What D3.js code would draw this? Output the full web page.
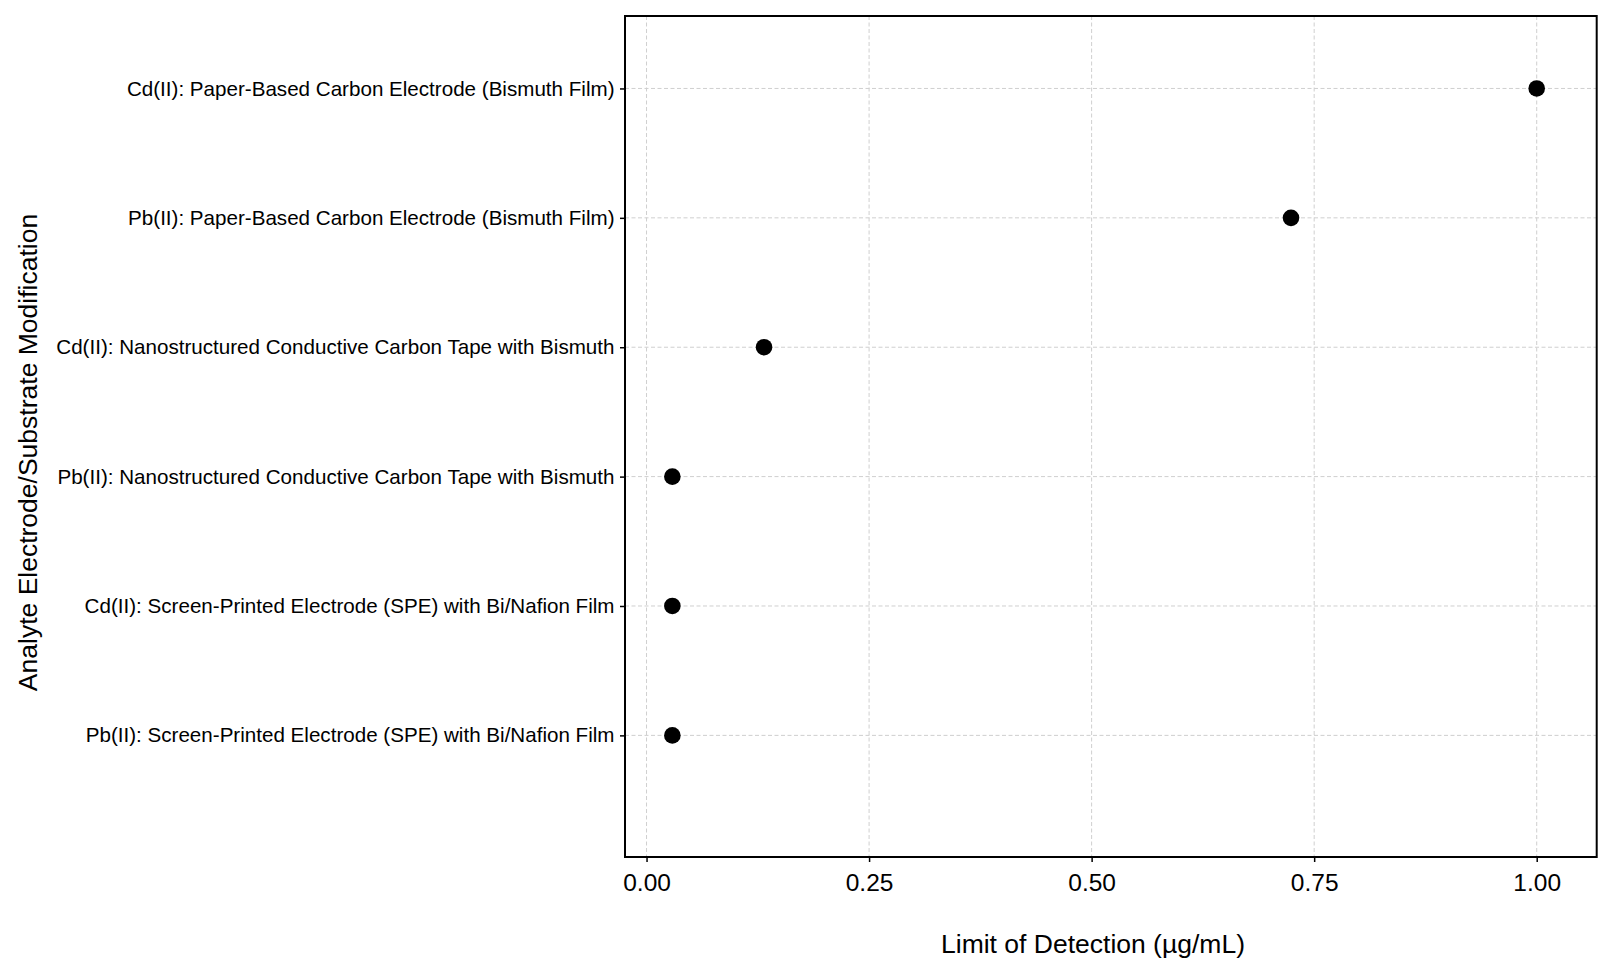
<!DOCTYPE html>
<html>
<head>
<meta charset="utf-8" />
<script src="https://cdn.jsdelivr.net/npm/d3@7"></script>
<style>
  body { margin: 0; background: #fff; }
  text { font-family: "Liberation Sans", Arial, Helvetica, sans-serif; fill: #000; }
  .grid line { stroke: #cfcfcf; stroke-width: 1; stroke-dasharray: 4,2.5; }
  .axis path { display: none; }
  .axis line { stroke: #000; stroke-width: 1.5; }
</style>
</head>
<body>
<script>
// categories, top to bottom
var categories = [
  "Cd(II): Paper-Based Carbon Electrode (Bismuth Film)",
  "Pb(II): Paper-Based Carbon Electrode (Bismuth Film)",
  "Cd(II): Nanostructured Conductive Carbon Tape with Bismuth",
  "Pb(II): Nanostructured Conductive Carbon Tape with Bismuth",
  "Cd(II): Screen-Printed Electrode (SPE) with Bi/Nafion Film",
  "Pb(II): Screen-Printed Electrode (SPE) with Bi/Nafion Film"
];
var lod = [1.0, 0.724, 0.132, 0.029, 0.029, 0.029];
var xTicks = [0, 0.25, 0.5, 0.75, 1.0];

var width = 1614, height = 975;
// plot box (window.top is reserved, so prefixed names)
var pLeft = 625, pTop = 16, pRight = 1596.7, pBottom = 857;

var svg = d3.select("body").append("svg")
    .attr("width", width)
    .attr("height", height);

var x = d3.scaleLinear().domain([-0.0242, 1.0674]).range([pLeft, pRight]);
var y = d3.scaleLinear().domain([-0.56, 5.94]).range([pTop, pBottom]);
var idx = categories.map(function(d, i) { return i; });

// grid
var grid = svg.append("g").attr("class", "grid");
grid.selectAll("line.vx")
    .data(xTicks)
    .enter().append("line")
    .attr("class", "vx")
    .attr("x1", function(d) { return x(d); })
    .attr("x2", function(d) { return x(d); })
    .attr("y1", pTop).attr("y2", pBottom);
grid.selectAll("line.hy")
    .data(idx)
    .enter().append("line")
    .attr("class", "hy")
    .attr("y1", function(d) { return y(d); })
    .attr("y2", function(d) { return y(d); })
    .attr("x1", pLeft).attr("x2", pRight);

// axes
var xAxis = svg.append("g")
    .attr("class", "axis")
    .attr("transform", "translate(0," + pBottom + ")")
    .call(d3.axisBottom(x).tickValues(xTicks).tickFormat(d3.format(".2f")).tickSize(5).tickPadding(12));
xAxis.selectAll("text").style("font-size", "24.5px");

var yAxis = svg.append("g")
    .attr("class", "axis")
    .attr("transform", "translate(" + pLeft + ",0)")
    .call(d3.axisLeft(y).tickValues(idx).tickFormat(function(d) { return categories[d]; }).tickSize(5).tickPadding(5.5));
yAxis.selectAll("text").style("font-size", "20.6px");

// frame
svg.append("rect")
    .attr("x", pLeft).attr("y", pTop)
    .attr("width", pRight - pLeft).attr("height", pBottom - pTop)
    .attr("fill", "none")
    .attr("stroke", "#000")
    .attr("stroke-width", 2);

// points
svg.append("g").selectAll("circle")
    .data(lod)
    .enter().append("circle")
    .attr("cx", function(d) { return x(d); })
    .attr("cy", function(d, i) { return y(i); })
    .attr("r", 8.3)
    .attr("fill", "#000");

// axis titles
svg.append("text")
    .attr("x", 1093)
    .attr("y", 952.7)
    .attr("text-anchor", "middle")
    .style("font-size", "26.5px")
    .text("Limit of Detection (µg/mL)");

svg.append("text")
    .attr("transform", "translate(36.7,452.5) rotate(-90)")
    .attr("text-anchor", "middle")
    .style("font-size", "26.5px")
    .text("Analyte Electrode/Substrate Modification");
</script>
</body>
</html>
